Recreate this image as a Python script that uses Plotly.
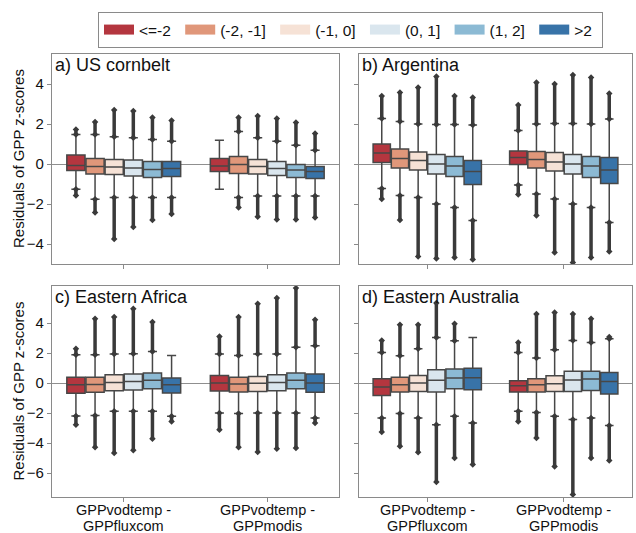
import plotly.graph_objects as go

GROUPS = ["GPPvodtemp -<br>GPPfluxcom", "GPPvodtemp -<br>GPPmodis"]
GROUP_LINES = [["GPPvodtemp -", "GPPfluxcom"], ["GPPvodtemp -", "GPPmodis"]]
CATEGORIES = ["<=-2", "(-2, -1]", "(-1, 0]", "(0, 1]", "(1, 2]", ">2"]
COLORS = ["#b4363f", "#e0977a", "#f6e2d6", "#dae6ee", "#8cbad4", "#3873a8"]
PANEL_TITLES = ["a) US cornbelt", "b) Argentina", "c) Eastern Africa", "d) Eastern Australia"]
Y_TITLE = "Residuals of GPP z-scores"

# each list: one [fluxcom, modis] pair per category
A_Q1 = [[-0.33, -0.38], [-0.50, -0.47], [-0.53, -0.50], [-0.60, -0.58], [-0.67, -0.67], [-0.63, -0.72]]
A_MED = [[-0.08, -0.10], [-0.13, -0.03], [-0.15, -0.13], [-0.20, -0.22], [-0.27, -0.30], [-0.23, -0.38]]
A_Q3 = [[0.45, 0.27], [0.27, 0.38], [0.23, 0.23], [0.20, 0.12], [0.12, -0.02], [0.12, -0.13]]
A_LO = [[-1.26, -1.26], [-1.76, -1.67], [-1.68, -1.60], [-1.68, -1.60], [-1.68, -1.60], [-1.68, -1.60]]
A_HI = [[1.48, 1.19], [1.48, 1.63], [1.36, 1.31], [1.31, 1.14], [1.23, 0.94], [1.14, 0.69]]
A_OUTMIN = [[-1.58, None], [-2.42, -2.17], [-3.75, -2.64], [-3.15, -2.77], [-2.80, -2.77], [-2.50, -2.67]]
A_OUTMAX = [[1.73, None], [2.10, 2.32], [2.70, 2.40], [2.65, 2.27], [2.32, 2.07], [2.18, 1.53]]

B_Q1 = [[0.08, -0.03], [-0.20, -0.20], [-0.30, -0.35], [-0.50, -0.50], [-0.63, -0.67], [-1.02, -0.97]]
B_MED = [[0.55, 0.32], [0.27, 0.23], [0.17, 0.10], [0.00, 0.00], [-0.10, -0.10], [-0.38, -0.30]]
B_Q3 = [[1.00, 0.65], [0.75, 0.63], [0.60, 0.57], [0.47, 0.48], [0.37, 0.37], [0.17, 0.32]]
B_LO = [[-1.22, -1.05], [-1.58, -1.50], [-1.67, -1.75], [-2.00, -2.00], [-2.17, -2.17], [-2.83, -2.92]]
B_HI = [[2.28, 1.67], [2.12, 2.00], [2.00, 2.03], [1.98, 2.03], [1.98, 2.00], [1.95, 2.25]]
B_OUTMIN = [[-1.75, -1.52], [-2.80, -2.58], [-4.63, -4.42], [-4.72, -4.93], [-4.67, -4.67], [-4.77, -4.38]]
B_OUTMAX = [[3.40, 2.95], [3.57, 4.07], [3.83, 4.00], [4.37, 4.45], [3.40, 4.33], [3.32, 3.53]]

C_Q1 = [[-0.69, -0.53], [-0.62, -0.60], [-0.51, -0.56], [-0.47, -0.51], [-0.38, -0.38], [-0.67, -0.62]]
C_MED = [[-0.11, 0.00], [-0.09, -0.07], [0.04, -0.02], [0.11, 0.04], [0.18, 0.18], [-0.11, 0.00]]
C_Q3 = [[0.38, 0.51], [0.38, 0.38], [0.56, 0.44], [0.60, 0.56], [0.67, 0.67], [0.33, 0.60]]
C_LO = [[-2.20, -2.00], [-2.16, -2.04], [-1.89, -2.00], [-1.89, -2.00], [-1.89, -2.00], [-2.22, -2.33]]
C_HI = [[1.89, 1.93], [1.89, 1.84], [1.93, 1.93], [1.96, 1.93], [2.11, 2.38], [1.84, 2.49]]
C_OUTMIN = [[-2.78, -3.11], [-4.29, -4.29], [-4.67, -4.60], [-4.49, -4.38], [-3.71, -4.33], [-2.56, -2.67]]
C_OUTMAX = [[2.29, 3.11], [4.29, 4.40], [4.40, 5.29], [4.96, 5.67], [4.07, 6.33], [None, 4.22]]

D_Q1 = [[-0.84, -0.60], [-0.60, -0.60], [-0.56, -0.56], [-0.60, -0.56], [-0.38, -0.49], [-0.44, -0.73]]
D_MED = [[-0.27, -0.18], [-0.11, -0.11], [0.00, -0.04], [0.18, 0.20], [0.33, 0.27], [0.36, 0.11]]
D_Q3 = [[0.29, 0.16], [0.38, 0.29], [0.51, 0.49], [0.89, 0.78], [0.93, 0.78], [0.98, 0.71]]
D_LO = [[-2.33, -1.89], [-2.04, -1.96], [-2.33, -2.22], [-2.78, -2.44], [-2.22, -2.33], [-2.67, -2.84]]
D_HI = [[2.04, 2.04], [1.82, 1.67], [2.29, 2.22], [3.04, 2.84], [2.82, 2.71], [3.04, 2.96]]
D_OUTMIN = [[-3.27, -2.56], [-4.22, -3.67], [-4.62, -5.56], [-6.60, -7.44], [-5.00, -5.00], [-5.44, -5.16]]
D_OUTMAX = [[2.84, 2.71], [3.89, 4.60], [3.89, 4.71], [5.33, 4.60], [3.96, 4.29], [None, 3.07]]

Y_TOP_TICKS = [-4, -2, 0, 2, 4]
Y_BOT_TICKS = [-6, -4, -2, 0, 2, 4]

PANELS = [
    (A_Q1, A_MED, A_Q3, A_LO, A_HI, A_OUTMIN, A_OUTMAX),
    (B_Q1, B_MED, B_Q3, B_LO, B_HI, B_OUTMIN, B_OUTMAX),
    (C_Q1, C_MED, C_Q3, C_LO, C_HI, C_OUTMIN, C_OUTMAX),
    (D_Q1, D_MED, D_Q3, D_LO, D_HI, D_OUTMIN, D_OUTMAX),
]

FONT = "Liberation Sans, Arial, sans-serif"
EDGE = "#474747"
OUT = "#3a3a3a"
FRAME = "#8a8a8a"

# dodge layout (like seaborn: 0.8 of each category slot shared by hue levels)
N = len(CATEGORIES)
SLOT = 0.8 / N
BOXW = SLOT * 0.95
OFFSETS = [-0.4 + SLOT * (k + 0.5) for k in range(N)]
GPOS = list(range(len(GROUPS)))

fig = go.Figure()
axis_ids = ["", "2", "3", "4"]

for p, (q1, med, q3, lo, hi, omin, omax) in enumerate(PANELS):
    xa = "x" + axis_ids[p]
    ya = "y" + axis_ids[p]
    for k, cat in enumerate(CATEGORIES):
        xpos = [g + OFFSETS[k] for g in GPOS]
        xs, ys = [], []
        for g in GPOS:
            if omax[k][g] is not None:
                xs += [xpos[g], xpos[g], None]
                ys += [hi[k][g], omax[k][g], None]
            if omin[k][g] is not None:
                xs += [xpos[g], xpos[g], None]
                ys += [lo[k][g], omin[k][g], None]
        fig.add_trace(go.Scatter(
            x=xs, y=ys, mode="lines+markers",
            line=dict(color=OUT, width=3.5),
            marker=dict(symbol="diamond", size=5, color=OUT),
            connectgaps=False,
            showlegend=False, hoverinfo="skip",
            xaxis=xa, yaxis=ya,
        ))
        fig.add_trace(go.Box(
            x=xpos,
            q1=q1[k], median=med[k], q3=q3[k],
            lowerfence=lo[k], upperfence=hi[k],
            width=BOXW,
            fillcolor=COLORS[k],
            line=dict(color=EDGE, width=1.5),
            whiskerwidth=0.5,
            name=cat, showlegend=False, hoverinfo="skip",
            xaxis=xa, yaxis=ya,
        ))

# legend entries (non-breaking space widens the gap between entries)
for k, cat in enumerate(CATEGORIES):
    fig.add_trace(go.Scatter(
        x=[None], y=[None], mode="lines",
        line=dict(color=COLORS[k], width=10),
        name=cat + "\u00a0", showlegend=True,
    ))

W, H = 636, 533
xdom = [[52 / W, 339 / W], [359 / W, 632 / W]]
ydom = [[1 - 264 / H, 1 - 54 / H], [1 - 497 / H, 1 - 286 / H]]

common_x = dict(
    range=[-0.5, 1.5], showline=True, mirror=True,
    linecolor=FRAME, linewidth=1.2, ticks="outside", ticklen=4,
    tickcolor=FRAME, showgrid=False, zeroline=False,
    tickvals=GPOS, showticklabels=False,
)
common_y = dict(
    showline=True, mirror=True, linecolor=FRAME, linewidth=1.2,
    ticks="outside", ticklen=4, tickcolor=FRAME, showgrid=False,
    zeroline=True, zerolinecolor="#8f8f8f", zerolinewidth=1,
    tickfont=dict(size=15, color="#111111", family=FONT),
)

layout = {}
for p in range(4):
    r, c = divmod(p, 2)
    sfx = "" if p == 0 else str(p + 1)
    xa = dict(common_x, domain=xdom[c], anchor="y" + sfx)
    ya = dict(common_y, domain=ydom[r], anchor="x" + sfx,
              showticklabels=(c == 0))
    if r == 0:
        ya["range"] = [-5.0, 5.5]
        ya["tickvals"] = Y_TOP_TICKS
    else:
        ya["range"] = [-7.6, 6.47]
        ya["tickvals"] = Y_BOT_TICKS
    layout["xaxis" + sfx] = xa
    layout["yaxis" + sfx] = ya

annotations = []
for p, t in enumerate(PANEL_TITLES):
    sfx = "" if p == 0 else str(p + 1)
    annotations.append(dict(
        text=t, xref="x" + sfx + " domain", yref="y" + sfx + " domain",
        x=0, y=1, xanchor="left", yanchor="top", xshift=1, yshift=1,
        showarrow=False, font=dict(size=18, color="#111111", family=FONT),
    ))

# y-axis titles for the left column
for r in range(2):
    annotations.append(dict(
        text=Y_TITLE, xref="paper", yref="paper",
        x=18 / W, y=(ydom[r][0] + ydom[r][1]) / 2,
        xanchor="center", yanchor="middle", textangle=-90, showarrow=False,
        font=dict(size=15, color="#111111", family=FONT),
    ))

# category labels under the bottom row (two lines, tight spacing)
for p in (2, 3):
    sfx = str(p + 1)
    for g in GPOS:
        for li, line in enumerate(GROUP_LINES[g]):
            annotations.append(dict(
                text=line, xref="x" + sfx, yref="paper",
                x=g, y=1 - (510 + 16 * li) / H,
                xanchor="center", yanchor="middle", showarrow=False,
                font=dict(size=14.5, color="#111111", family=FONT),
            ))

fig.update_layout(
    **layout,
    annotations=annotations,
    width=W, height=H,
    margin=dict(l=0, r=0, t=0, b=0),
    paper_bgcolor="white", plot_bgcolor="white",
    boxmode="overlay",
    font=dict(family=FONT, size=14, color="#111111"),
    legend=dict(
        orientation="h", x=603 / W, xanchor="right", y=1 - 12 / H,
        yanchor="top", bordercolor=FRAME, borderwidth=1,
        font=dict(size=15.5, family=FONT, color="#111111"),
        itemwidth=30, tracegroupgap=0,
    ),
)

fig.write_html("out.html", config={"displayModeBar": False},
               post_script="document.body.style.margin='0';")
